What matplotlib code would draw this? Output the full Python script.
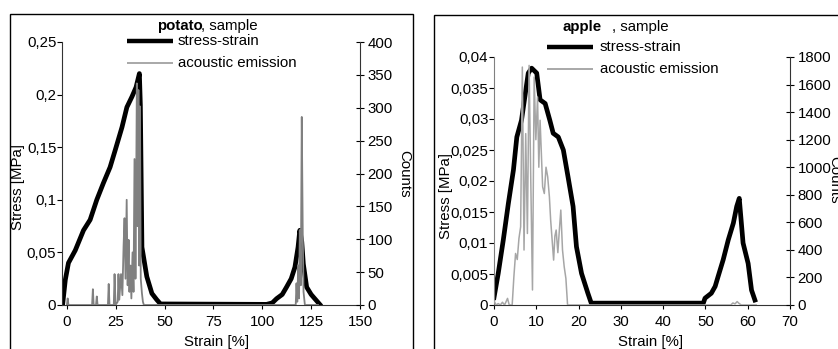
import matplotlib.pyplot as plt
from matplotlib.lines import Line2D
from matplotlib.patches import Rectangle
from matplotlib.ticker import FuncFormatter, MultipleLocator

# potato sample
potato_strain = [-2.2, -0.8, 0.8, 4.3, 8.5, 11.9, 15.3, 18.7, 22.1, 24.7, 28.2, 30.7, 33.3, 35.4, 37.1,
                 37.6, 38.4, 40.9, 43.5, 46.0, 47.9, 102.2, 105.1, 107.3, 110.2, 112.4, 114.8, 116.7,
                 118.3, 119.2, 120.2, 121.0, 122.7, 125.0, 127.8, 129.4]
potato_stress = [0, 0.024, 0.040, 0.052, 0.071, 0.081, 0.1, 0.116, 0.131, 0.147, 0.169, 0.188, 0.198,
                 0.207, 0.22, 0.19, 0.055, 0.027, 0.011, 0.005, 0.001, 0.0006, 0.002, 0.006, 0.01,
                 0.017, 0.025, 0.036, 0.055, 0.071, 0.06, 0.039, 0.017, 0.01, 0.004, 0.0006]
potato_ae_x = [0, 0.4, 0.8, 12.9, 13.3, 13.7, 14.9, 15.3, 15.7, 21.0, 21.4, 21.8, 24.0, 24.4, 24.9,
               26.0, 26.4, 26.8, 27.7, 28.4, 29.0, 29.5, 30.0, 30.6, 31.1, 31.6, 32.0, 32.5, 33.0,
               33.6, 34.1, 34.6, 35.1, 35.4, 35.8, 36.2, 36.6, 37.0, 37.4, 37.8, 38.4, 38.9, 39.4,
               40.8, 117.1, 117.5, 117.9, 118.4, 118.8, 119.2, 119.7, 120.2, 120.7, 121.1, 121.8, 128.5]
potato_ae = [0, 10, 0, 0, 24, 0, 0, 13, 0, 0, 32, 0, 0, 47, 0,
             5, 47, 8, 47, 15, 89, 132, 40, 160, 30, 99, 20, 60, 10,
             80, 20, 222, 40, 150, 337, 120, 327, 60, 302, 40, 18, 5, 0,
             0, 0, 33, 5, 60, 10, 114, 30, 286, 109, 20, 0, 0]

# apple sample
apple_strain = [0, 1.0, 2.2, 3.4, 4.6, 5.4, 6.5, 7.3, 8.1, 8.9, 10.1, 10.9, 12.1, 13.2, 14.0, 15.2,
                16.4, 17.5, 18.7, 19.5, 20.7, 22.2, 23.0, 49.5, 49.9, 51.4, 52.3, 53.0, 54.2, 55.4,
                56.6, 57.4, 58.0, 58.9, 60.1, 60.9, 61.7]
apple_stress = [0.0012, 0.0051, 0.0105, 0.0164, 0.0218, 0.0271, 0.0298, 0.0336, 0.0374, 0.0382,
                0.0374, 0.0331, 0.0325, 0.0298, 0.0277, 0.0271, 0.025, 0.0207, 0.0159, 0.0094,
                0.0051, 0.0019, 0.0003, 0.0003, 0.0011, 0.0019, 0.003, 0.0046, 0.0073, 0.0105,
                0.0132, 0.0159, 0.0172, 0.01, 0.0067, 0.0024, 0.0008]
apple_ae_x = [0, 0.5, 1.0, 1.5, 2.0, 2.5, 3.2, 3.6, 4.3, 4.7, 5.1, 5.5, 5.9, 6.3, 6.7, 7.1, 7.5, 7.9,
              8.3, 8.7, 9.1, 9.5, 9.9, 10.3, 10.6, 10.9, 11.5, 11.9, 12.3, 12.7, 13.1, 13.4, 14.1,
              14.4, 14.7, 15.1, 15.4, 15.8, 16.2, 16.6, 17.0, 17.4, 56, 56.5, 57, 57.5, 58, 58.5, 62]
apple_ae = [30, 0, 10, 0, 20, 0, 48, 0, 0, 205, 374, 330, 483, 568, 1727, 399, 1244, 519,
            1739, 900, 109, 1655, 1200, 1510, 1000, 1341, 858, 809, 1000, 930, 785, 616, 326,
            500, 544, 380, 519, 689, 400, 278, 193, 0, 0, 15, 8, 25, 10, 0, 0]

W, H = 838, 349
plt.rcParams['font.family'] = ['Liberation Sans', 'DejaVu Sans']
plt.rcParams['font.size'] = 10.8
fig = plt.figure(figsize=(W / 100, H / 100), dpi=100)


def px(x, y):
    return x / W, 1 - y / H


comma = FuncFormatter(lambda v, p: f"{v:g}".replace('.', ','))


def panel(left, right, top, xlim, xstep, ylim, ystep, clim, cstep,
          strain, stress, ae_x, ae, ae_color, ae_lw, lspine_color):
    x0, y0 = px(left, 305)
    x1, y1 = px(right, top)
    ax = fig.add_axes([x0, y0, x1 - x0, y1 - y0])
    ax.plot(strain, stress, color='black', lw=3.4, solid_joinstyle='round')
    ax.set_xlim(*xlim)
    ax.set_ylim(*ylim)
    ax.xaxis.set_major_locator(MultipleLocator(xstep))
    ax.yaxis.set_major_locator(MultipleLocator(ystep))
    ax.yaxis.set_major_formatter(comma)
    ax.spines['top'].set_visible(False)
    ax.spines['right'].set_visible(False)
    ax.spines['left'].set_color(lspine_color)
    ax.spines['bottom'].set_color('#333333')
    ax.tick_params(axis='y', direction='out', length=3.6, width=0.8, pad=0.5)
    ax.tick_params(axis='x', direction='out', length=3, width=0.8, pad=4)

    ax2 = ax.twinx()
    ax2.plot(ae_x, ae, color=ae_color, lw=ae_lw)
    ax2.set_ylim(*clim)
    ax2.yaxis.set_major_locator(MultipleLocator(cstep))
    ax2.spines['top'].set_visible(False)
    ax2.spines['left'].set_visible(False)
    ax2.spines['bottom'].set_visible(False)
    ax2.spines['right'].set_color('#333333')
    ax2.tick_params(axis='y', direction='inout', length=6, width=0.8, pad=2.5)
    return ax, ax2


def legend(x_line, x_text, y1, y2, name, x_name, x_rest, y_title):
    for y, c, lw in ((y1, 'black', 3.2), (y2, '#999999', 1.2)):
        (a, b), (c2, _) = px(x_line, y), px(x_line + 46, y)
        fig.add_artist(Line2D([a, c2], [b, b], color=c, lw=lw, solid_capstyle='butt'))
    fig.text(*px(x_text, y1), 'stress-strain', va='center')
    fig.text(*px(x_text, y2), 'acoustic emission', va='center')
    fig.text(*px(x_name, y_title), name, va='center', fontweight='bold')
    fig.text(*px(x_rest, y_title), ', sample', va='center')


# frames
fig.add_artist(Rectangle(px(10, 360), (413 - 10) / W, (360 - 14) / H,
                         transform=fig.transFigure, fill=False, lw=1, ec='black'))
fig.add_artist(Rectangle(px(434, 360), (850 - 434) / W, (360 - 15) / H,
                         transform=fig.transFigure, fill=False, lw=1, ec='black'))

panel(62, 360, 42, (-2.5, 150), 25, (0, 0.25), 0.05, (0, 400), 50,
      potato_strain, potato_stress, potato_ae_x, potato_ae, '#808080', 1.3, '#333333')
panel(494, 790, 57, (0, 70), 10, (0, 0.04), 0.005, (0, 1800), 200,
      apple_strain, apple_stress, apple_ae_x, apple_ae, '#a6a6a6', 1.1, '#808080')

legend(127, 178, 41, 63, 'potato', 157, 201, 26)
legend(547, 600, 47, 69, 'apple', 562, 612, 27)

fig.text(*px(18, 187), 'Stress [MPa]', rotation=90, ha='center', va='center')
fig.text(*px(404, 174), 'Counts', rotation=270, ha='center', va='center')
fig.text(*px(217, 342), 'Strain [%]', ha='center', va='center')
fig.text(*px(446, 196), 'Stress [MPa]', rotation=90, ha='center', va='center')
fig.text(*px(834, 180), 'Counts', rotation=270, ha='center', va='center')
fig.text(*px(651, 342), 'Strain [%]', ha='center', va='center')

fig.savefig('out.png', dpi=100, facecolor='white')
